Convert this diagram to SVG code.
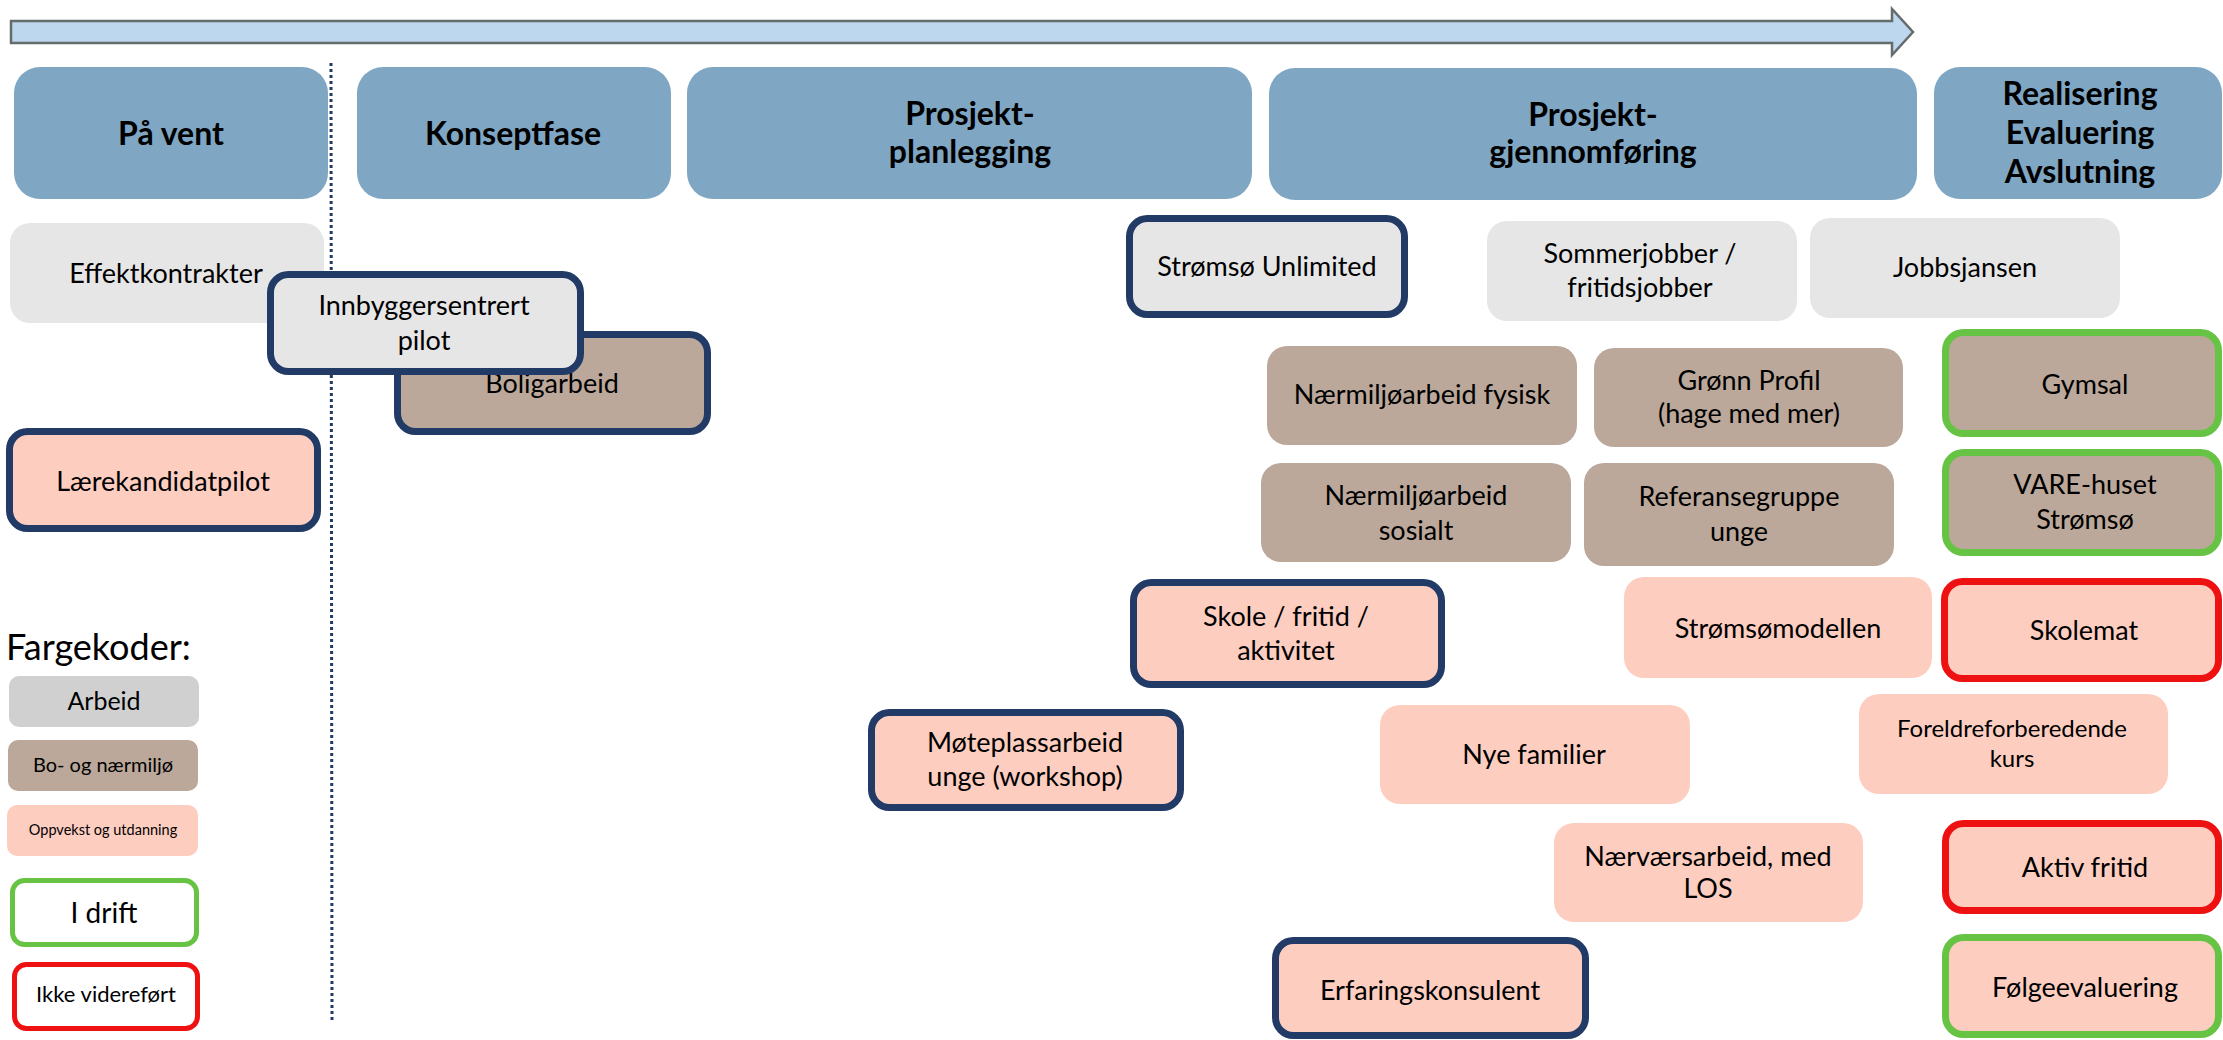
<svg xmlns="http://www.w3.org/2000/svg" width="2223" height="1040" viewBox="0 0 2223 1040">
<style>
.phase{fill:#7FA6C3}
.pt{font-family:Lato,"Noto Sans",sans-serif;font-weight:bold;font-size:32px;text-anchor:middle;fill:#000}
.t{font-family:Lato,"Noto Sans",sans-serif;font-size:27px;text-anchor:middle;fill:#000}
.work{fill:#E6E6E6}
.bo{fill:#BBA89A}
.opp{fill:#FDCEC0}
.navy{stroke:#213A66;stroke-width:7}
.green{stroke:#66C344;stroke-width:7}
.red{stroke:#EE1111;stroke-width:7}
</style>
<rect width="2223" height="1040" fill="#fff"/>
<g id="timeline-arrow">
<path d="M11,21 H1892 V9 L1913,32 L1892,55 V43 H11 Z" fill="#BDD7EE" stroke="#656C6C" stroke-width="2.5"/>
</g>
<g id="divider">
<line x1="331" y1="63" x2="332" y2="1022" stroke="#213A66" stroke-width="3" stroke-dasharray="3 3"/>
</g>
<g id="phase-paa-vent"><rect class="phase" x="14" y="67" width="314" height="132" rx="26"/><text class="pt" x="171" y="145">På vent</text></g>
<g id="phase-konsept"><rect class="phase" x="357" y="67" width="314" height="132" rx="26"/><text class="pt" x="513" y="145">Konseptfase</text></g>
<g id="phase-planlegging"><rect class="phase" x="687" y="67" width="565" height="132" rx="26"/><text class="pt" x="970" y="125">Prosjekt-</text><text class="pt" x="970" y="163">planlegging</text></g>
<g id="phase-gjennomforing"><rect class="phase" x="1269" y="68" width="648" height="132" rx="26"/><text class="pt" x="1593" y="126">Prosjekt-</text><text class="pt" x="1593" y="163">gjennomføring</text></g>
<g id="phase-realisering"><rect class="phase" x="1934" y="67" width="288" height="132" rx="26"/><text class="pt" x="2080" y="105">Realisering</text><text class="pt" x="2080" y="144">Evaluering</text><text class="pt" x="2080" y="183">Avslutning</text></g>

<g id="effektkontrakter"><rect class="work" x="10" y="223" width="314" height="100" rx="20"/><text class="t" x="166" y="283">Effektkontrakter</text></g>
<g id="boligarbeid"><rect class="bo navy" x="397.5" y="334.5" width="310" height="97" rx="18"/><text class="t" x="552" y="393">Boligarbeid</text></g>
<g id="innbyggersentrert-pilot"><rect class="work navy" x="270.5" y="274.5" width="310" height="97" rx="18"/><text class="t" x="424" y="315">Innbyggersentrert</text><text class="t" x="424" y="350">pilot</text></g>
<g id="laerekandidatpilot"><rect class="opp navy" x="9.5" y="431.5" width="308" height="97" rx="18"/><text class="t" x="163" y="491">Lærekandidatpilot</text></g>

<g id="stromso-unlimited"><rect class="work navy" x="1129.5" y="218.5" width="275" height="96" rx="18"/><text class="t" x="1267" y="276">Strømsø Unlimited</text></g>
<g id="sommerjobber"><rect class="work" x="1487" y="221" width="310" height="100" rx="20"/><text class="t" x="1640" y="263">Sommerjobber /</text><text class="t" x="1640" y="297">fritidsjobber</text></g>
<g id="jobbsjansen"><rect class="work" x="1810" y="218" width="310" height="100" rx="20"/><text class="t" x="1965" y="277">Jobbsjansen</text></g>

<g id="naermiljo-fysisk"><rect class="bo" x="1267" y="346" width="310" height="99" rx="20"/><text class="t" x="1422" y="404">Nærmiljøarbeid fysisk</text></g>
<g id="gronn-profil"><rect class="bo" x="1594" y="348" width="309" height="99" rx="20"/><text class="t" x="1749" y="390">Grønn Profil</text><text class="t" x="1749" y="423">(hage med mer)</text></g>
<g id="gymsal"><rect class="bo green" x="1945.5" y="332.5" width="273" height="101" rx="18"/><text class="t" x="2085" y="394">Gymsal</text></g>

<g id="naermiljo-sosialt"><rect class="bo" x="1261" y="463" width="310" height="99" rx="20"/><text class="t" x="1416" y="505">Nærmiljøarbeid</text><text class="t" x="1416" y="540">sosialt</text></g>
<g id="referansegruppe"><rect class="bo" x="1584" y="463" width="310" height="103" rx="20"/><text class="t" x="1739" y="506">Referansegruppe</text><text class="t" x="1739" y="541">unge</text></g>
<g id="vare-huset"><rect class="bo green" x="1945.5" y="452.5" width="273" height="100" rx="18"/><text class="t" x="2085" y="494">VARE-huset</text><text class="t" x="2085" y="529">Strømsø</text></g>

<g id="skole-fritid"><rect class="opp navy" x="1133.5" y="582.5" width="308" height="102" rx="18"/><text class="t" x="1286" y="626">Skole / fritid /</text><text class="t" x="1286" y="660">aktivitet</text></g>
<g id="stromsomodellen"><rect class="opp" x="1624" y="577" width="308" height="101" rx="20"/><text class="t" x="1778" y="638">Strømsømodellen</text></g>
<g id="skolemat"><rect class="opp red" x="1944.5" y="581.5" width="274" height="97" rx="18"/><text class="t" x="2084" y="640">Skolemat</text></g>

<g id="moteplassarbeid"><rect class="opp navy" x="871.5" y="712.5" width="309" height="95" rx="18"/><text class="t" x="1025" y="752">Møteplassarbeid</text><text class="t" x="1025" y="786">unge (workshop)</text></g>
<g id="nye-familier"><rect class="opp" x="1380" y="705" width="310" height="99" rx="20"/><text class="t" x="1534" y="764">Nye familier</text></g>
<g id="foreldreforberedende"><rect class="opp" x="1859" y="694" width="309" height="100" rx="20"/><text class="t" x="2012" y="737" style="font-size:24px">Foreldreforberedende</text><text class="t" x="2012" y="767" style="font-size:24px">kurs</text></g>

<g id="naervaersarbeid"><rect class="opp" x="1554" y="823" width="309" height="99" rx="20"/><text class="t" x="1708" y="866">Nærværsarbeid, med</text><text class="t" x="1708" y="898">LOS</text></g>
<g id="aktiv-fritid"><rect class="opp red" x="1945.5" y="823.5" width="273" height="87" rx="18"/><text class="t" x="2085" y="877">Aktiv fritid</text></g>

<g id="erfaringskonsulent"><rect class="opp navy" x="1275.5" y="940.5" width="310" height="95" rx="18"/><text class="t" x="1430" y="1000">Erfaringskonsulent</text></g>
<g id="folgeevaluering"><rect class="opp green" x="1945.5" y="937.5" width="273" height="97" rx="18"/><text class="t" x="2085" y="997">Følgeevaluering</text></g>

<g id="legend">
<text x="6" y="660" style="font-family:Lato,'Noto Sans',sans-serif;font-size:36px" fill="#000">Fargekoder:</text>
<g id="legend-arbeid"><rect x="9" y="676" width="190" height="51" rx="10" fill="#D0D0D0"/><text class="t" x="104" y="710" style="font-size:25px">Arbeid</text></g>
<g id="legend-bo"><rect class="bo" x="8" y="740" width="190" height="51" rx="10"/><text class="t" x="103" y="772" style="font-size:20px">Bo- og nærmiljø</text></g>
<g id="legend-oppvekst"><rect class="opp" x="7" y="805" width="191" height="51" rx="10"/><text class="t" x="103" y="835" style="font-size:14.5px">Oppvekst og utdanning</text></g>
<g id="legend-idrift"><rect x="12.5" y="880.5" width="184" height="64" rx="12" fill="#fff" stroke="#66C344" stroke-width="5"/><text class="t" x="104" y="923" style="font-size:28px">I drift</text></g>
<g id="legend-ikke"><rect x="14.5" y="964.5" width="183" height="64" rx="12" fill="#fff" stroke="#EE1111" stroke-width="5"/><text class="t" x="106" y="1002" style="font-size:22px">Ikke videreført</text></g>
</g>
</svg>
